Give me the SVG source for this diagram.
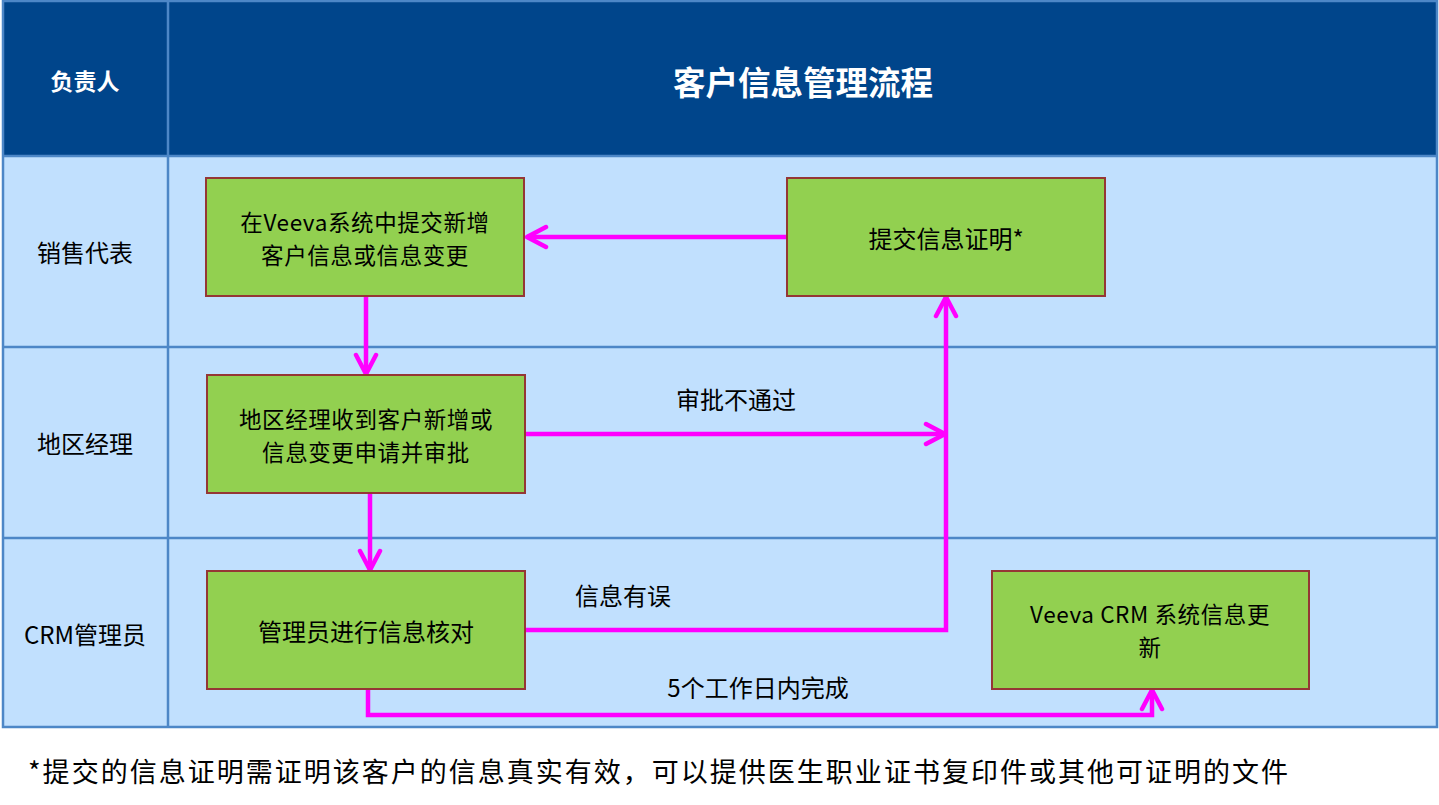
<svg xmlns="http://www.w3.org/2000/svg" width="1439" height="805" viewBox="0 0 1439 805">
<style>
.hdr{fill:#00458B}
.lane{fill:#C1E0FE}
.grid{stroke:#4D87C7;stroke-width:2.5;fill:none}
.box{fill:#92D050;stroke:#953735;stroke-width:2}
.t{font-family:"Microsoft YaHei","Noto Sans CJK SC","Noto Sans",sans-serif;font-size:24px;fill:#000;text-anchor:middle;dominant-baseline:central}
.t2{font-size:22.5px;letter-spacing:0.6px}
.w{fill:#fff;font-weight:bold}
.c{stroke:#FF00FF;stroke-width:4.5;fill:none}
</style>
<defs>
<marker id="ah" markerUnits="userSpaceOnUse" viewBox="0 0 26 26" markerWidth="26" markerHeight="26" refX="23" refY="13" orient="auto">
<path d="M4,3 L23,13 L4,23" fill="none" stroke="#FF00FF" stroke-width="4.5" stroke-linecap="round" stroke-linejoin="round"/>
</marker>
</defs>
<rect width="1439" height="805" fill="#fff"/>
<g id="table">
<rect class="hdr" x="3" y="1" width="1434" height="155"/>
<rect class="lane" x="3" y="156" width="1434" height="571"/>
<rect class="grid" x="3" y="1" width="1434" height="726"/>
<line class="grid" x1="168" y1="1" x2="168" y2="727"/>
<line class="grid" x1="3" y1="156" x2="1437" y2="156"/>
<line class="grid" x1="3" y1="347" x2="1437" y2="347"/>
<line class="grid" x1="3" y1="538" x2="1437" y2="538"/>
<text class="t w" x="85" y="80" style="font-size:23px">负责人</text>
<text class="t w" x="803" y="80" style="font-size:32.5px">客户信息管理流程</text>
<text class="t" x="85" y="251">销售代表</text>
<text class="t" x="85" y="442">地区经理</text>
<text class="t" x="85" y="633">CRM管理员</text>
</g>
<g id="connectors">
<line class="c" x1="787" y1="237" x2="527" y2="237" marker-end="url(#ah)"/>
<line class="c" x1="366" y1="296" x2="366" y2="374" marker-end="url(#ah)"/>
<line class="c" x1="370" y1="493" x2="370" y2="570" marker-end="url(#ah)"/>
<line class="c" x1="525" y1="434" x2="945" y2="434" marker-end="url(#ah)"/>
<polyline class="c" points="525,630 946,630 946,297" marker-end="url(#ah)"/>
<polyline class="c" points="368,689 368,715 1152,715 1152,690" marker-end="url(#ah)"/>
<text class="t" x="736" y="398">审批不通过</text>
<text class="t" x="623" y="594">信息有误</text>
<text class="t" x="758" y="686">5个工作日内完成</text>
</g>
<g id="n1">
<rect class="box" x="206" y="178" width="318" height="118"/>
<text class="t t2" x="365" y="220.5"><tspan x="365">在Veeva系统中提交新增</tspan><tspan x="365" dy="33">客户信息或信息变更</tspan></text>
</g>
<g id="n2">
<rect class="box" x="787" y="178" width="318" height="118"/>
<text class="t" x="946" y="237">提交信息证明*</text>
</g>
<g id="n3">
<rect class="box" x="207" y="375" width="318" height="118"/>
<text class="t t2" x="366" y="417.5"><tspan x="366">地区经理收到客户新增或</tspan><tspan x="366" dy="33">信息变更申请并审批</tspan></text>
</g>
<g id="n4">
<rect class="box" x="207" y="571" width="318" height="118"/>
<text class="t" x="366" y="630">管理员进行信息核对</text>
</g>
<g id="n5">
<rect class="box" x="992" y="571" width="317" height="118"/>
<text class="t t2" x="1150" y="613"><tspan x="1150">Veeva CRM 系统信息更</tspan><tspan x="1150" dy="33">新</tspan></text>
</g>
<text class="t" x="28" y="770" style="font-size:27px;text-anchor:start" textLength="1260" lengthAdjust="spacing">*提交的信息证明需证明该客户的信息真实有效，可以提供医生职业证书复印件或其他可证明的文件</text>
</svg>
